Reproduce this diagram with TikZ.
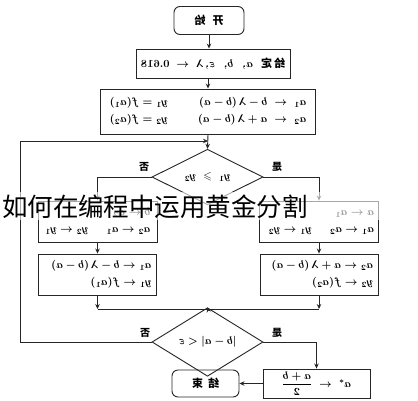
\documentclass[tikz,border=0pt]{standalone}
\usepackage{amsmath}
\usepackage{amssymb}
\usepackage{graphicx}
\usepackage{fontspec}
\newfontfamily\cjk{Noto Sans CJK SC}
\usetikzlibrary{arrows.meta,shapes.geometric}
% the whole chart is printed mirror-wise
\newcommand{\flip}[1]{\reflectbox{#1}}

\begin{document}
\begin{tikzpicture}[x=1pt, y=-1pt,
    box/.style={draw=black!85, line width=0.9pt, inner sep=0pt},
    startstop/.style={box, rounded corners=6pt},
    decision/.style={draw=black!85, line width=0.9pt, diamond, inner sep=0pt},
    flow/.style={draw=black!85, line width=0.9pt, -{Stealth[length=5pt,width=4.5pt]}},
    link/.style={draw=black!85, line width=0.9pt},
    yesno/.style={font=\cjk\bfseries\fontsize{10}{12}\selectfont},
    every node/.append style={font=\fontsize{11}{13}\selectfont\boldmath}]
  \useasboundingbox (0,0) rectangle (418,400);
  \fill[white] (0,0) rectangle (418,400);

  % start
  \node[startstop, minimum width=70pt, minimum height=28pt] (start) at (209,20.5)
    {\flip{\cjk\bfseries 开\hspace{7pt}始}};

  % input
  \node[box, minimum width=154pt, minimum height=29pt] (init) at (213,63.5)
    {\flip{{\cjk\bfseries 给\hspace{2pt}定}\hspace{8pt}$a,\ \ b,\ \ \varepsilon,\lambda\;\leftarrow\;0.618$}};

  % first two points
  \node[box, minimum width=215pt, minimum height=45pt] (calc) at (208,111.5)
    {\flip{\begin{tabular}{@{}l@{\hspace{30pt}}l@{}}
      $a_1 \;\leftarrow\; b - \lambda\,(b - a)$ & $y_1 = f(a_1)$ \\[4pt]
      $a_2 \;\leftarrow\; a + \lambda\,(b - a)$ & $y_2 = f(a_2)$
    \end{tabular}}};

  % compare
  \node[decision, minimum width=111pt, minimum height=42pt] (test) at (207.5,177)
    {\flip{$y_1 \;\geqslant\; y_2$}};
  \node[yesno] (no1) at (144,167) {\flip{否}};
  \node[yesno] (yes1) at (277,167) {\flip{是}};

  % branch: no
  \node[box, minimum width=119pt, minimum height=41pt] (noA) at (97.5,221.5)
    {\flip{\begin{tabular}{@{}p{106pt}@{}}
      $b \leftarrow a_2$ \\[4pt]
      $a_2 \leftarrow a_1$\hspace{18pt}$y_2 \leftarrow y_1$
    \end{tabular}}};
  \node[box, minimum width=118pt, minimum height=41pt] (noB) at (97.5,274.5)
    {\flip{\begin{tabular}{@{}p{108pt}@{}}
      $a_1 \leftarrow b - \lambda\,(b - a)$ \\[4pt]
      $y_1 \leftarrow f(a_1)$
    \end{tabular}}};

  % branch: yes
  \node[box, minimum width=119pt, minimum height=41pt] (yesA) at (319,221.5)
    {\flip{\begin{tabular}{@{}p{110pt}@{}}
      $a \leftarrow a_1$ \\[4pt]
      $a_1 \leftarrow a_2$\hspace{18pt}$y_1 \leftarrow y_2$
    \end{tabular}}};
  \node[box, minimum width=118pt, minimum height=41pt] (yesB) at (319,274.5)
    {\flip{\begin{tabular}{@{}p{108pt}@{}}
      $a_2 \leftarrow a + \lambda\,(b - a)$ \\[4pt]
      $y_2 \leftarrow f(a_2)$
    \end{tabular}}};

  % stop test
  \node[decision, minimum width=111pt, minimum height=32pt] (check) at (207.5,342)
    {\flip{$\lvert b - a\rvert < \varepsilon$}};
  \node[yesno] (no2) at (145,333) {\flip{否}};
  \node[yesno] (yes2) at (277,333) {\flip{是}};

  % result and end
  \node[box, minimum width=107pt, minimum height=29pt] (result) at (316.5,383.5)
    {\flip{$a^{*} \;\leftarrow\; \dfrac{a + b}{2}$}};
  \node[startstop, minimum width=67pt, minimum height=27pt] (stop) at (205.5,383.5)
    {\flip{\cjk\bfseries 结\hspace{5pt}束}};

  % connectors
  \coordinate (loopin) at (208,141);
  \coordinate (loopleft) at (20,141);
  \coordinate (merge) at (208,309);
  \draw[flow] (start.south) -- (start.south |- init.north);
  \draw[flow] (calc.north |- init.south) -- (calc.north);
  \draw[flow] (calc.south) -- (test.north);
  \draw[flow] (test.west) -| (noA.north);
  \draw[flow] (test.east) -| (yesA.north);
  \draw[flow] (noA) -- (noB);
  \draw[flow] (yesA) -- (yesB);
  \draw[flow] (noB.south) -- (noB.south |- merge);
  \draw[flow] (yesB.south) -- (yesB.south |- merge);
  \draw[link] (noB.south |- merge) -- (yesB.south |- merge);
  \draw[flow] (merge) -- (check.north);
  \draw[flow] (check.west) -| (loopleft) -- (loopin);
  \draw[flow] (check.east) -| (result.north);
  \draw[flow] (result.west) -- (stop.east);

  % caption laid over the chart
  \fill[white, opacity=0.6] (0,192) rectangle (385,220);
  \node[font=\cjk\fontsize{25.5}{27}\selectfont, inner sep=0pt] (mark) at (155,206.5)
    {如何在编程中运用黄金分割};
\end{tikzpicture}
\end{document}
